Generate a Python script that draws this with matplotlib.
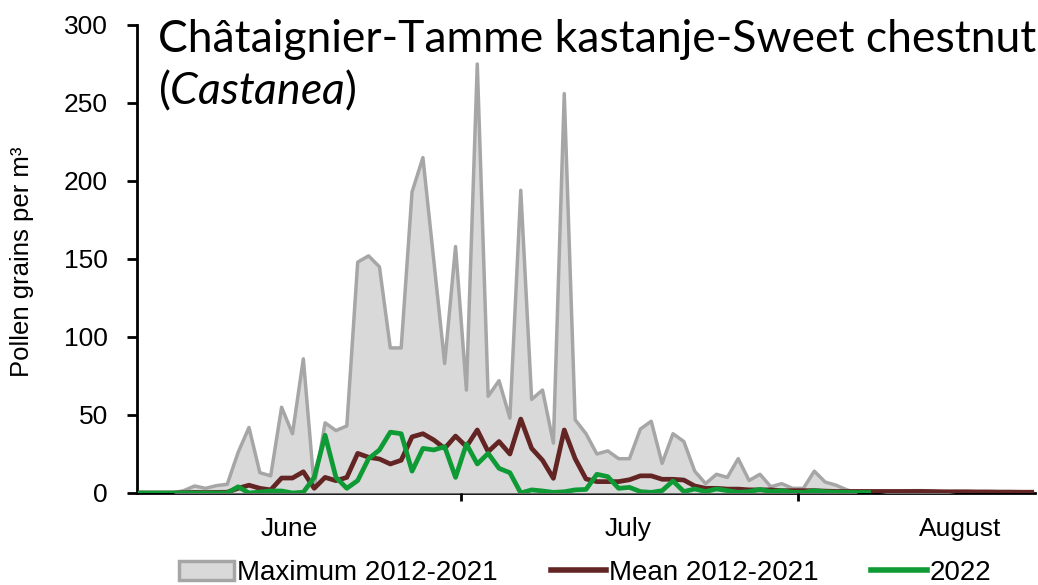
import matplotlib
matplotlib.use("Agg")
import matplotlib.pyplot as plt
import numpy as np
from matplotlib.patches import Patch
from matplotlib.lines import Line2D

# Daily values from 1 June to 22 August (index 0 = 1 June)
max_2012_2021 = [0, 0, 0, 0, 1.5, 4.5, 3, 4.7, 5.6, 26,
                 42, 13, 11, 55, 38, 86, 4, 45, 40, 43,
                 148, 152, 145, 93, 93, 193, 215, 149, 83, 158,
                 66, 275, 62, 72, 48, 194, 60, 66, 32, 256,
                 47, 38, 25, 27, 22, 22, 41, 46, 19, 38,
                 33, 14, 6, 12, 10, 22, 8, 12, 4, 6,
                 3, 3, 14, 7, 5, 2, 0, 0, 0, 0.5,
                 1, 1.5, 1.5, 1, 0.5, 0, 0, 0, 0, 0,
                 0, 0, 0]
mean_2012_2021 = [0, 0, 0, 0, 0.2, 0.4, 0.3, 0.4, 0.5, 3,
                  5, 3, 2, 9.6, 9.6, 13.6, 3, 10, 7.9, 10,
                  25.4, 22.9, 21.8, 18.6, 21, 36, 38, 34, 28.6, 36.5,
                  29.7, 40.4, 26.5, 33, 25, 47.4, 28.6, 21, 9.4, 40.4,
                  22, 9, 7.3, 7.3, 7.3, 8.5, 11, 11, 8.8, 8.8,
                  8.3, 4.5, 3, 3, 2.5, 2.5, 2, 2, 2, 1.5,
                  1.5, 1.5, 1.5, 1.2, 1, 1, 1, 1, 1, 1,
                  1, 1, 1, 0.9, 0.8, 0.8, 0.8, 0.7, 0.7, 0.6,
                  0.6, 0.5, 0.5]
y2022 = [0, 0, 0, 0, 0, 0, 0, 0, 0, 4,
         0, 0.6, 1.3, 1.3, 0, 0.5, 10, 37, 10, 3,
         8, 22, 27.6, 39, 38, 14, 28.6, 27.6, 29.7, 10,
         31.4, 18.6, 25.4, 15.8, 13, 0, 2, 1.3, 0.4, 0.8,
         2, 2.3, 12, 10.5, 3, 3.6, 0.9, 0.4, 1.5, 7.7,
         0.9, 2.6, 0.9, 2.6, 1.5, 0.4, 0.9, 2.3, 0.9, 1.5,
         0.4, 0.4, 1.5, 0.8, 0.5, 0.5, 0.3, 0.3]
month_labels = ["June", "July", "August"]
month_label_pos = [13.75, 44.9, 75.4]
month_boundaries = [29.5, 60.5]

title_line1 = "Châtaignier-Tamme kastanje-Sweet chestnut"
ylabel = "Pollen grains per m³"
legend_labels = ["Maximum 2012-2021", "Mean 2012-2021", "2022"]

plt.rcParams['font.family'] = ['Liberation Sans', 'DejaVu Sans']
plt.rcParams['mathtext.fontset'] = 'custom'
plt.rcParams['mathtext.rm'] = 'Lato'
plt.rcParams['mathtext.it'] = 'Lato:italic'

W, H = 1038, 585
fig = plt.figure(figsize=(W / 100, H / 100), dpi=100)
ax = fig.add_axes([137 / W, 1 - 493 / H, (1035 - 137) / W, (493 - 25) / H])

x_max = np.arange(len(max_2012_2021))
x_mean = np.arange(len(mean_2012_2021))
x_22 = np.arange(len(y2022))

c_fill = '#D9D9D9'
c_edge = '#A6A6A6'
c_mean = '#632523'
c_22 = '#0E9A35'

ax.fill_between(x_max, 0, max_2012_2021, color=c_fill, lw=0, zorder=1)
ax.plot(x_max, max_2012_2021, color=c_edge, lw=2.5, zorder=2)
ax.plot(x_mean, mean_2012_2021, color=c_mean, lw=3.4, zorder=3)
ax.plot(x_22, y2022, color=c_22, lw=3.4, zorder=4)

ax.set_xlim(-0.3, 82.3)
ax.set_ylim(0, 300)
ax.set_yticks(np.arange(0, 301, 50))
ax.tick_params(axis='y', direction='out', length=7, width=2, labelsize=19, pad=14)

ax.set_xticks(month_boundaries)
ax.set_xticklabels([])
ax.tick_params(axis='x', which='major', direction='out', length=6, width=2)
ax.set_xticks(month_label_pos, minor=True)
ax.set_xticklabels(month_labels, minor=True)
ax.tick_params(axis='x', which='minor', length=0, labelsize=19, pad=17)

for s in ['top', 'right']:
    ax.spines[s].set_visible(False)
ax.spines['left'].set_linewidth(2)
ax.spines['bottom'].set_linewidth(2)
ax.spines['bottom'].set_zorder(0.5)

fig.text(22 / W, 1 - 262 / H, ylabel, rotation=90, ha='center', va='center', fontsize=18.5)

fig.text(158 / W, 1 - 52 / H, title_line1, ha='left', va='baseline',
         fontsize=32, family='Lato')
fig.text(158 / W, 1 - 104 / H, r"($\mathit{Castanea}$)", ha='left', va='baseline',
         fontsize=32, family='Lato')

handles = [Patch(facecolor=c_fill, edgecolor=c_edge, lw=2.5),
           Line2D([], [], color=c_mean, lw=4),
           Line2D([], [], color=c_22, lw=4)]
fig.legend(handles, legend_labels, loc='center', bbox_to_anchor=(585 / W, 1 - 573 / H),
           ncol=3, frameon=False, fontsize=20, handlelength=2.0, handleheight=0.7,
           handletextpad=0.1, columnspacing=1.9, borderaxespad=0, borderpad=0)

fig.savefig('out.png', dpi=100)
